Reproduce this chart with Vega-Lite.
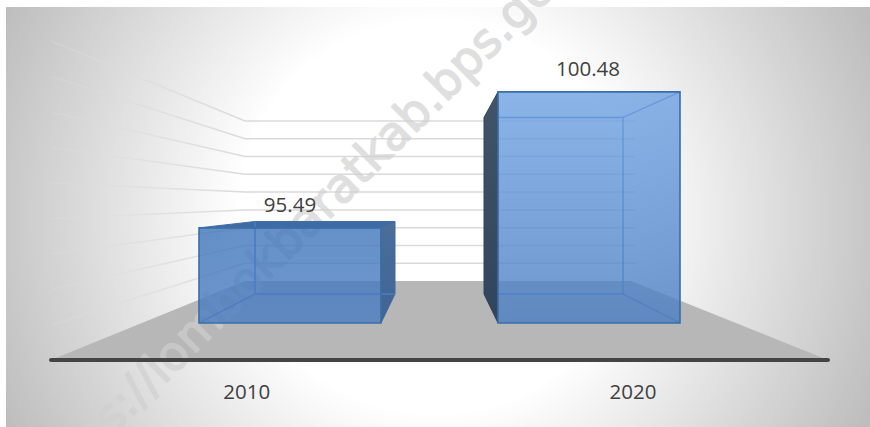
{
"$schema":"https://vega.github.io/schema/vega-lite/v6.json",
"width":864,"height":420,
"autosize":{"type":"none"},
"padding":{"left":6,"top":7,"right":0,"bottom":0},
"background":"#ffffff",
"config":{"view":{"stroke":"#c6c6c6","strokeWidth":1}},
"datasets":{
"bars":[{"year":2010,"x":199,"x2":381,"y":95.49,"y2":92,"labelX":290},{"year":2020,"x":498,"x2":680,"y":100.48,"y2":92,"labelX":588}],
"grid":[
{"g":1,"i":0,"x":51,"y":102.349},{"g":1,"i":1,"x":245,"y":99.413},{"g":1,"i":2,"x":635,"y":99.413},
{"g":2,"i":0,"x":51,"y":101.046},{"g":2,"i":1,"x":245,"y":98.76},{"g":2,"i":2,"x":635,"y":98.76},
{"g":3,"i":0,"x":51,"y":99.743},{"g":3,"i":1,"x":245,"y":98.106},{"g":3,"i":2,"x":635,"y":98.106},
{"g":4,"i":0,"x":51,"y":98.44},{"g":4,"i":1,"x":245,"y":97.457},{"g":4,"i":2,"x":635,"y":97.457},
{"g":5,"i":0,"x":51,"y":97.138},{"g":5,"i":1,"x":245,"y":96.804},{"g":5,"i":2,"x":635,"y":96.804},
{"g":6,"i":0,"x":51,"y":95.835},{"g":6,"i":1,"x":245,"y":96.15},{"g":6,"i":2,"x":635,"y":96.15},
{"g":7,"i":0,"x":51,"y":94.532},{"g":7,"i":1,"x":245,"y":95.497},{"g":7,"i":2,"x":635,"y":95.497},
{"g":8,"i":0,"x":51,"y":93.229},{"g":8,"i":1,"x":245,"y":94.848},{"g":8,"i":2,"x":635,"y":94.848},
{"g":9,"i":0,"x":51,"y":91.927},{"g":9,"i":1,"x":245,"y":94.194},{"g":9,"i":2,"x":635,"y":94.194}
],
"edges":[
{"s":"a","i":0,"x":255,"y":95.725},{"s":"a","i":1,"x":255,"y":93.064},{"s":"a","i":2,"x":395,"y":93.064},
{"s":"b","i":0,"x":199,"y":92},{"s":"b","i":1,"x":255,"y":93.064},
{"s":"c","i":0,"x":498,"y":99.541},{"s":"c","i":1,"x":623,"y":99.541},{"s":"c","i":2,"x":623,"y":93.064},{"s":"c","i":3,"x":498,"y":93.064},
{"s":"d","i":0,"x":623,"y":99.541},{"s":"d","i":1,"x":680,"y":100.48},
{"s":"e","i":0,"x":623,"y":93.064},{"s":"e","i":1,"x":680,"y":92}
]
},
"encoding":{
"x":{"field":"x","type":"quantitative","axis":null,"scale":{"domain":[6,870],"nice":false,"zero":false}},
"y":{"field":"y","type":"quantitative","axis":null,"scale":{"domain":[88.183,103.596],"nice":false,"zero":false}}
},
"layer":[
{"data":{"values":[{"x":-43,"x2":913,"y":113.431,"y2":78.349}]},
"mark":{"type":"rect","clip":true,"color":{"gradient":"radial","x1":0.5,"y1":0.5,"r1":0,"x2":0.5,"y2":0.5,"r2":0.5,"stops":[{"offset":0.41,"color":"#ffffff"},{"offset":1,"color":"#bdbdbd"}]}},
"encoding":{"x2":{"field":"x2"},"y2":{"field":"y2"}}},
{"data":{"values":[{"y":90.642,"x":51,"x2":828},{"y":93.541,"x":245,"x2":631}]},
"mark":{"type":"area","orient":"horizontal","color":"#b7b7b7"},
"encoding":{"x2":{"field":"x2"}}},
{"data":{"name":"grid"},
"mark":{"type":"line","strokeWidth":1.5,"stroke":{"gradient":"linear","x1":0,"y1":0,"x2":1,"y2":0,"stops":[{"offset":0,"color":"rgba(222,222,222,0.25)"},{"offset":0.33,"color":"rgba(218,218,218,1)"},{"offset":1,"color":"rgba(218,218,218,1)"}]}},
"encoding":{"detail":{"field":"g"},"order":{"field":"i"}}},
{"data":{"values":[{"text":"https://lombokbaratkab.bps.go.id","x":311,"y":95.853}]},
"mark":{"type":"text","font":"DejaVu Sans","fontSize":47,"angle":315,"align":"center","baseline":"middle","color":"#d0d0d0","stroke":"#d0d0d0","strokeWidth":1.5,"opacity":0.68},
"encoding":{"text":{"field":"text"}}},
{"data":{"values":[{"x":484,"y":99.541,"y2":93.064},{"x":498,"y":100.48,"y2":92}]},
"mark":{"type":"area","stroke":"#2f4560","strokeWidth":1,"color":{"gradient":"linear","x1":0,"y1":0,"x2":0,"y2":1,"stops":[{"offset":0,"color":"#415468"},{"offset":1,"color":"#30445c"}]}},
"encoding":{"y2":{"field":"y2"}}},
{"data":{"values":[{"x":381,"y":95.49,"y2":92},{"x":395,"y":95.725,"y2":93.064}]},
"mark":{"type":"area","stroke":"#3f6ba3","strokeWidth":1,"color":{"gradient":"linear","x1":0,"y1":0,"x2":0,"y2":1,"stops":[{"offset":0,"color":"#4b6e9a"},{"offset":1,"color":"#3f6595"}]}},
"encoding":{"y2":{"field":"y2"}}},
{"data":{"values":[{"y":95.49,"x":199,"x2":381},{"y":95.725,"x":255,"x2":395}]},
"mark":{"type":"area","orient":"horizontal","color":"#3f6ba3","stroke":"#3f6ba3","strokeWidth":1},
"encoding":{"x2":{"field":"x2"}}},
{"data":{"name":"edges"},
"mark":{"type":"line","stroke":"#4a7fc0","strokeWidth":1.3},
"encoding":{"detail":{"field":"s"},"order":{"field":"i"}}},
{"data":{"name":"bars"},
"transform":[{"filter":"datum.year==2010"}],
"mark":{"type":"rect","stroke":"#3b6da8","strokeWidth":1.6,"fillOpacity":0.8,"color":{"gradient":"linear","x1":0,"y1":0,"x2":0,"y2":1,"stops":[{"offset":0,"color":"#3e74ba"},{"offset":1,"color":"#4a7dc2"}]}},
"encoding":{"x2":{"field":"x2"},"y2":{"field":"y2"}}},
{"data":{"name":"bars"},
"transform":[{"filter":"datum.year==2020"}],
"mark":{"type":"rect","stroke":"#3b6da8","strokeWidth":1.6,"fillOpacity":0.8,"color":{"gradient":"linear","x1":0,"y1":0,"x2":0,"y2":1,"stops":[{"offset":0,"color":"#6ea1e3"},{"offset":1,"color":"#4a7dc2"}]}},
"encoding":{"x2":{"field":"x2"},"y2":{"field":"y2"}}},
{"data":{"values":[{"x":51,"y":90.642},{"x":828,"y":90.642}]},
"mark":{"type":"line","stroke":"#444444","strokeWidth":4,"strokeCap":"round"}},
{"data":{"name":"bars"},
"mark":{"type":"text","font":"Open Sans","fontSize":20.5,"color":"#404040","align":"center","baseline":"alphabetic","dy":-16},
"encoding":{"x":{"field":"labelX","type":"quantitative"},"text":{"field":"y","format":".2f"}}},
{"data":{"values":[{"year":"2010","x":246.7,"y":89.211},{"year":"2020","x":633,"y":89.211}]},
"mark":{"type":"text","font":"Open Sans","fontSize":20.5,"color":"#404040","align":"center","baseline":"alphabetic"},
"encoding":{"text":{"field":"year"}}}
]
}
